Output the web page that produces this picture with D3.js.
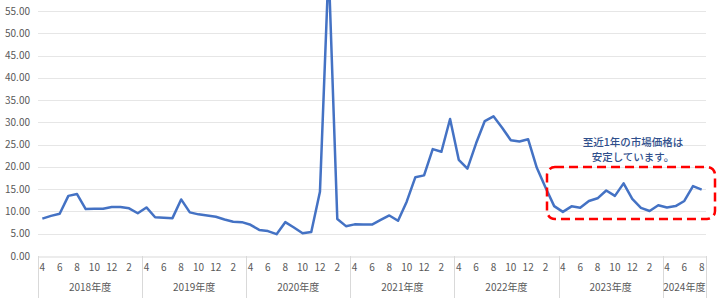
<!DOCTYPE html>
<html><head><meta charset="utf-8">
<script src="https://cdn.jsdelivr.net/npm/d3@7"></script>
<style>
html,body{margin:0;padding:0;background:#fff;}
svg{display:block;font-family:"Noto Sans CJK JP","Noto Sans",sans-serif;}
</style></head>
<body>
<svg id="chart" width="720" height="298"></svg>
<script>
const fiscalYears = ["2018年度","2019年度","2020年度","2021年度","2022年度","2023年度","2024年度"];
const monthsPerYear = [12,12,12,12,12,12,5];
const monthNums = [4,5,6,7,8,9,10,11,12,1,2,3];
const yTicks = [0,5,10,15,20,25,30,35,40,45,50,55];
const values = [
  // FY2018
  8.4, 9.0, 9.5, 13.5, 13.9, 10.55, 10.6, 10.6, 11.0, 11.0, 10.7, 9.6,
  // FY2019
  10.9, 8.7, 8.6, 8.5, 12.7, 9.8, 9.35, 9.1, 8.8, 8.2, 7.7, 7.6,
  // FY2020
  7.0, 5.85, 5.6, 4.9, 7.6, 6.4, 5.1, 5.4, 14.4, 65.0, 8.3, 6.7,
  // FY2021
  7.1, 7.05, 7.05, 8.1, 9.1, 7.9, 12.2, 17.7, 18.1, 24.0, 23.4, 30.75,
  // FY2022
  21.6, 19.6, 25.3, 30.3, 31.35, 28.8, 26.0, 25.7, 26.2, 19.8, 15.4, 11.2,
  // FY2023
  9.9, 11.15, 10.85, 12.35, 12.95, 14.7, 13.5, 16.3, 12.8, 10.8, 10.1, 11.4,
  // FY2024
  10.9, 11.2, 12.35, 15.7, 14.9
];
const noteLines = ["至近1年の市場価格は","安定しています。"];

(function(){
const points = [];
fiscalYears.forEach((fy, fi) => {
  for (let m = 0; m < monthsPerYear[fi]; m++) {
    points.push({i: points.length, fy: fi, month: monthNums[m], v: values[points.length]});
  }
});

const svg = d3.select("#chart");
const pL = 38, pR = 706, pT = 11, pB = 256;
const x = d3.scaleBand().domain(points.map(d => d.i)).range([pL, pR]).padding(0);
const y = d3.scaleLinear().domain([0, 55]).range([pB, pT]);
const textColor = "#595959";
const ff = '"Noto Sans CJK JP","Noto Sans",sans-serif';

svg.append("g").selectAll("line").data(yTicks.filter(t => t > 0)).join("line")
  .attr("x1", pL).attr("x2", pR)
  .attr("y1", d => Math.round(y(d)) + 0.5).attr("y2", d => Math.round(y(d)) + 0.5)
  .attr("stroke", "#e6e6e6").attr("stroke-width", 1);

svg.append("g").selectAll("text").data(yTicks).join("text")
  .attr("x", 30).attr("y", d => y(d)).attr("dy", "0.35em")
  .attr("text-anchor", "end").attr("font-size", 10).attr("fill", textColor)
  .text(d => d3.format(".2f")(d));

const xAxis = d3.axisBottom(x)
  .tickValues(points.filter(d => d.month % 2 === 0).map(d => d.i))
  .tickFormat(i => points[i].month)
  .tickSize(0).tickPadding(7);
const ax = svg.append("g").attr("transform", `translate(0,${pB + 0.5})`).call(xAxis);
ax.select(".domain").attr("stroke", "#d9d9d9");
ax.selectAll("text").attr("font-size", 10).attr("fill", textColor).attr("font-family", ff);

const yearStart = [];
let acc = 0;
monthsPerYear.forEach(n => { yearStart.push(acc); acc += n; });
const bw = x.bandwidth();
const divs = yearStart.map(s => x(s)).concat([pR]);
svg.append("g").selectAll("line").data(divs).join("line")
  .attr("x1", d => Math.round(d) + 0.5).attr("x2", d => Math.round(d) + 0.5)
  .attr("y1", pB).attr("y2", 298)
  .attr("stroke", "#d9d9d9").attr("stroke-width", 1);
svg.append("g").selectAll("text").data(fiscalYears).join("text")
  .attr("x", (d, i) => x(yearStart[i]) + bw * monthsPerYear[i] / 2)
  .attr("y", 287).attr("dy", "0.35em")
  .attr("text-anchor", "middle").attr("font-size", 10).attr("fill", textColor)
  .text(d => d);

const line = d3.line().x(d => x(d.i) + bw / 2).y(d => y(d.v));
svg.append("path").datum(points)
  .attr("d", line).attr("fill", "none")
  .attr("stroke", "#4472C4").attr("stroke-width", 2.5)
  .attr("stroke-linejoin", "round");

svg.append("rect")
  .attr("x", 547).attr("y", 167).attr("width", 168).attr("height", 52)
  .attr("rx", 8).attr("ry", 8)
  .attr("fill", "none").attr("stroke", "#ff0000").attr("stroke-width", 2.5)
  .attr("stroke-dasharray", "9,5");

const note = svg.append("text")
  .attr("text-anchor", "middle").attr("font-size", 10.5).attr("font-weight", 500)
  .attr("fill", "#2f4f8c");
note.selectAll("tspan").data(noteLines).join("tspan")
  .attr("x", 633).attr("y", (d, i) => 142 + i * 15.5).attr("dy", "0.35em")
  .text(d => d);
})();
</script>
</body></html>
